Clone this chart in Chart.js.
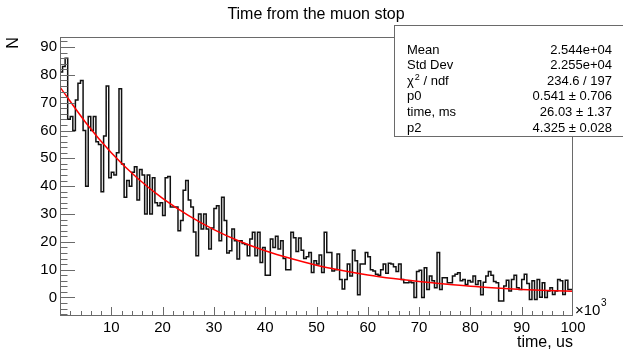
<!DOCTYPE html>
<html>
<head>
<meta charset="utf-8">
<script src="https://cdn.jsdelivr.net/npm/chart.js@4"></script>
<style>
  html, body { margin: 0; padding: 0; background: #fff; }
  #wrap { width: 623px; height: 352px; }
</style>
</head>
<body>
<div id="wrap"><canvas id="muonChart" width="623" height="352"></canvas></div>
<script>
// histogram: 200 bins of 0.5 (x10^3 us) from 0 to 100
const binWidth = 0.5;
const counts = [
    89, 81, 83, 86, 64, 65, 60, 71, 77, 78,
    60, 40, 65, 60, 65, 56, 55, 38, 58, 76,
    43, 45, 44, 52, 75, 48, 36, 42, 40, 45,
    47, 35, 46, 44, 30, 44, 30, 43, 34, 33,
    34, 29.5, 43, 43.5, 32.5, 32.5, 32.5, 24, 27.7, 38.5,
    42, 35, 32.5, 23.5, 15, 30, 24.6, 30, 24.6, 17.4,
    25, 32, 33, 20.4, 36, 27.7, 16, 16.8, 24.6, 20.4,
    13.8, 20.4, 19.4, 19, 15, 21, 23.4, 15, 23.4, 12.6,
    18, 8, 8, 21, 18, 22, 17.4, 20.4, 14, 10,
    10, 23.4, 21.5, 16.5, 21.4, 17, 14, 14.6, 16.2, 9,
    13.2, 12, 15.3, 9, 23.4, 16.2, 16.2, 9.5, 10, 15.6,
    6.5, 3, 6.5, 12, 7.7, 17, 13.2, 1, 12, 12,
    16.2, 14.6, 10, 9.5, 8.3, 8, 10, 12, 8.7, 12.3,
    12, 11, 9.3, 12, 6.5, 5.3, 5.3, 5.6, 5.3, 0,
    9.3, 9.8, 0, 10.7, 2.9, 7.7, 6, 3.5, 16.2, 2.9,
    7.1, 7.1, 5.3, 5.3, 7.7, 8.3, 8.9, 6, 6.5, 4.7,
    6.1, 5.6, 7.7, 4.7, 6, 1, 5.5, 7.7, 9.3, 8,
    5.7, 5.3, -1.3, -1.3, 4.1, 6.2, 2.3, 6.5, 8, 3.5,
    2.9, 6.5, 8.3, 5, -0.7, 6, -0.7, 6.5, 0.1, 5.3,
    0, 2.3, 3.5, 1.1, 2.3, 6.5, 6, 1.1, 6.2, 2.9
];

const fitX = [0, 5, 10, 15, 20, 25, 30, 35, 40, 45, 50, 55, 60, 65, 70, 75, 80, 85, 90, 95, 100];
const fitY = [75.6, 62.9, 52.0, 43.0, 35.6, 29.5, 24.4, 20.2, 16.8, 14.0, 11.6, 9.7, 8.1, 6.8, 5.7, 4.8, 4.0, 3.4, 2.9, 2.5, 2.2];

const xTicks = [10, 20, 30, 40, 50, 60, 70, 80, 90, 100];
const yTicks = [0, 10, 20, 30, 40, 50, 60, 70, 80, 90];

const statLabels = ['Mean', 'Std Dev', 'χ² / ndf', 'p0', 'time, ms', 'p2'];
const statValues = ['2.544e+04', '2.255e+04', '234.6 / 197', '0.541 ± 0.706', '26.03 ± 1.37', '4.325 ± 0.028'];

const FONT = '"Liberation Sans", Arial, Helvetica, sans-serif';

const histData = counts.map((c, i) => ({ x: i * binWidth, y: c }));
histData.push({ x: counts.length * binWidth, y: counts[counts.length - 1] });
const fitData = fitX.map((x, i) => ({ x: x, y: fitY[i] }));

// ROOT-style frame, inner ticks, titles and stats box
const rootDecor = {
    id: 'rootDecor',
    afterDraw(chart) {
        const { ctx, chartArea: a, scales: { x, y } } = chart;
        ctx.save();

        // frame
        ctx.strokeStyle = '#6a6a6a';
        ctx.lineWidth = 1;
        ctx.strokeRect(a.left + 0.5, a.top + 0.5, a.right - a.left - 1, a.bottom - a.top);

        // y ticks (inside, on the left)
        ctx.beginPath();
        for (let v = -6; v <= 92; v += 2) {
            const py = Math.round(y.getPixelForValue(v)) + 0.5;
            const len = (v % 10 === 0) ? 15 : 7.5;
            ctx.moveTo(a.left, py);
            ctx.lineTo(a.left + len, py);
        }
        // x ticks (inside, at the bottom)
        for (let v = 2; v < 100; v += 2) {
            const px = Math.round(x.getPixelForValue(v)) + 0.5;
            const len = (v % 10 === 0) ? 8 : 4;
            ctx.moveTo(px, a.bottom);
            ctx.lineTo(px, a.bottom - len);
        }
        ctx.stroke();

        ctx.fillStyle = '#000';

        // title
        ctx.font = '16px ' + FONT;
        ctx.textAlign = 'center';
        ctx.textBaseline = 'middle';
        ctx.fillText('Time from the muon stop', 316, 15);

        // y title
        ctx.save();
        ctx.translate(14, 43);
        ctx.rotate(-Math.PI / 2);
        ctx.font = '16px ' + FONT;
        ctx.fillText('N', 0, 0);
        ctx.restore();

        // x title
        ctx.textAlign = 'right';
        ctx.font = '16px ' + FONT;
        ctx.fillText('time, us', a.right, 343);

        // x10^3 multiplier
        ctx.textAlign = 'left';
        ctx.font = '15px ' + FONT;
        ctx.fillText('×10', 575, 311);
        ctx.font = '10px ' + FONT;
        ctx.fillText('3', 601, 303);

        // stats box
        const bx = 394.5, by = 25.5, bw = 240, bh = 111;
        ctx.fillStyle = '#fff';
        ctx.fillRect(bx, by, bw, bh);
        ctx.strokeStyle = '#6a6a6a';
        ctx.strokeRect(bx, by, bw, bh);

        ctx.fillStyle = '#000';
        ctx.textBaseline = 'middle';
        statLabels.forEach((label, i) => {
            const ry = 50 + i * 15.6;
            ctx.font = '13px ' + FONT;
            ctx.textAlign = 'left';
            const parts = label.split('²');
            if (parts.length > 1) {
                ctx.fillText(parts[0], 407, ry);
                const w0 = ctx.measureText(parts[0]).width;
                ctx.font = '9px ' + FONT;
                ctx.fillText('2', 407 + w0 + 1, ry - 4);
                const w1 = ctx.measureText('2').width;
                ctx.font = '13px ' + FONT;
                ctx.fillText(parts[1], 407 + w0 + w1 + 1, ry);
            } else {
                ctx.fillText(label, 407, ry);
            }
            ctx.textAlign = 'right';
            ctx.fillText(statValues[i], 612, ry);
        });

        ctx.restore();
    }
};

new Chart(document.getElementById('muonChart'), {
    type: 'line',
    data: {
        datasets: [
            {
                label: 'fit',
                data: fitData,
                borderColor: '#ff0000',
                borderWidth: 1.5,
                pointRadius: 0,
                fill: false,
                tension: 0.4,
                cubicInterpolationMode: 'monotone',
                order: 0
            },
            {
                label: 'hist',
                data: histData,
                borderColor: '#111111',
                borderWidth: 1.5,
                pointRadius: 0,
                fill: false,
                stepped: 'after',
                order: 1
            }
        ]
    },
    plugins: [rootDecor],
    options: {
        responsive: false,
        animation: false,
        devicePixelRatio: 1,
        layout: { padding: { top: 37, right: 50, bottom: 0, left: 0 } },
        plugins: {
            legend: { display: false },
            tooltip: { enabled: false },
            title: { display: false }
        },
        scales: {
            x: {
                type: 'linear',
                min: 0,
                max: 100,
                border: { display: false },
                grid: { display: false, drawTicks: false },
                afterBuildTicks: s => { s.ticks = xTicks.map(v => ({ value: v })); },
                afterFit: s => { s.height = 37; },
                ticks: {
                    color: '#000',
                    font: { family: FONT, size: 15 },
                    padding: 4,
                    maxRotation: 0,
                    autoSkip: false
                }
            },
            y: {
                type: 'linear',
                min: -6.3,
                max: 93.6,
                border: { display: false },
                grid: { display: false, drawTicks: false },
                afterBuildTicks: s => { s.ticks = yTicks.map(v => ({ value: v })); },
                afterFit: s => { s.width = 60; },
                ticks: {
                    color: '#000',
                    font: { family: FONT, size: 15 },
                    padding: 3,
                    autoSkip: false
                }
            }
        }
    }
});
</script>
</body>
</html>
